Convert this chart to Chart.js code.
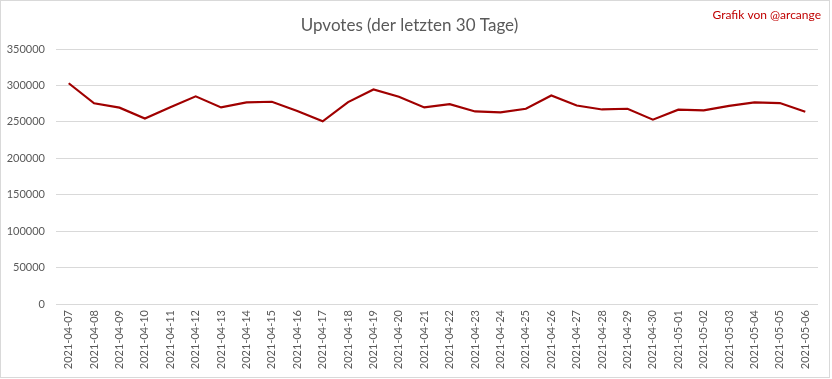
<!DOCTYPE html>
<html>
<head>
<meta charset="utf-8">
<script src="https://cdn.jsdelivr.net/npm/chart.js@4"></script>
<style>
html,body{margin:0;padding:0;background:#fff;}
#wrap{position:absolute;left:0;top:0;width:828px;height:376px;border:1px solid #d9d9d9;background:#fff;}
canvas{display:block;}
</style>
</head>
<body>
<div id="wrap"><canvas id="c" width="828" height="376"></canvas></div>
<script>
const categories = ["2021-04-07","2021-04-08","2021-04-09","2021-04-10","2021-04-11","2021-04-12","2021-04-13","2021-04-14","2021-04-15","2021-04-16","2021-04-17","2021-04-18","2021-04-19","2021-04-20","2021-04-21","2021-04-22","2021-04-23","2021-04-24","2021-04-25","2021-04-26","2021-04-27","2021-04-28","2021-04-29","2021-04-30","2021-05-01","2021-05-02","2021-05-03","2021-05-04","2021-05-05","2021-05-06"];
const upvotes = [303000,275500,269500,254500,270000,285000,269800,276700,277600,264800,250700,277100,294500,284400,269800,274300,264300,262900,268000,286200,272500,267000,268000,253000,266700,265700,272000,276700,275800,263900];
const yTicks = [0,50000,100000,150000,200000,250000,300000,350000];
const titleText = "Upvotes (der letzten 30 Tage)";
const creditText = "Grafik von @arcange";

const creditPlugin = {
  id: 'credit',
  afterDraw(chart) {
    const ctx = chart.ctx;
    ctx.save();
    ctx.font = '12px Lato';
    ctx.fillStyle = '#c00000';
    ctx.textAlign = 'right';
    ctx.textBaseline = 'middle';
    ctx.fillText(creditText, 820, 14);
    ctx.restore();
  }
};

new Chart(document.getElementById('c'), {
  type: 'line',
  data: {
    labels: categories,
    datasets: [{
      label: 'Upvotes',
      data: upvotes,
      borderColor: '#a00000',
      backgroundColor: '#a00000',
      borderWidth: 2.2,
      pointRadius: 0,
      tension: 0,
      fill: false
    }]
  },
  options: {
    responsive: false,
    animation: false,
    layout: { padding: { left: 0, right: 11, top: 0, bottom: 0 } },
    plugins: {
      legend: { display: false },
      tooltip: { enabled: false },
      title: {
        display: true,
        text: titleText,
        color: '#595959',
        font: { family: 'Lato', size: 17, weight: 'normal' },
        padding: { top: 14, bottom: 13.6 }
      }
    },
    scales: {
      x: {
        offset: true,
        grid: { display: false, drawTicks: false },
        border: { display: false },
        ticks: {
          color: '#595959',
          font: { family: 'Lato', size: 11 },
          minRotation: 90,
          maxRotation: 90,
          autoSkip: false,
          padding: 6
        },
        afterFit(scale) { scale.height = 73; }
      },
      y: {
        min: 0,
        max: 350000,
        afterBuildTicks(scale) { scale.ticks = yTicks.map(v => ({ value: v })); },
        grid: { color: '#d9d9d9', drawTicks: false, lineWidth: 1 },
        border: { display: false },
        ticks: {
          color: '#595959',
          font: { family: 'Lato', size: 11 },
          padding: 11,
          callback: (v) => String(v)
        },
        afterFit(scale) { scale.width = 55; }
      }
    }
  },
  plugins: [creditPlugin]
});
</script>
</body>
</html>
